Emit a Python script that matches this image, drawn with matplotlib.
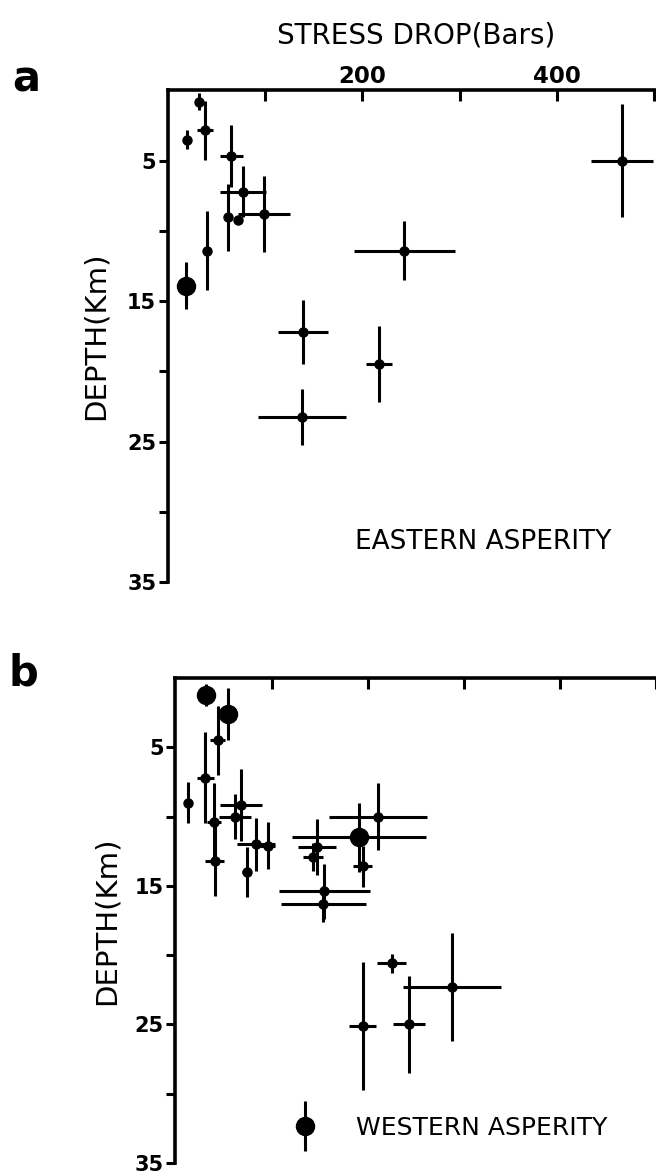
import matplotlib
matplotlib.use('Agg')
import matplotlib.pyplot as plt
from matplotlib.container import ErrorbarContainer
from matplotlib.legend_handler import HandlerErrorbar

# panel a - eastern asperity (stress drop in bars, depth in km)
a_stress = [32, 38, 20, 65, 77, 62, 72, 99, 40, 19, 467, 243, 139, 217, 138]
a_depth = [0.8, 2.85, 3.5, 4.65, 7.2, 9.05, 9.2, 8.8, 11.4, 13.9, 5.0, 11.4, 17.2, 19.5, 23.25]
a_stress_err = [0, 8.5, 0, 12, 24, 0, 0, 27, 0, 0, 32, 52, 26, 13, 45]
a_depth_err = [0.6, 2.1, 0.7, 2.2, 1.8, 2.4, 0, 2.7, 2.8, 1.7, 4.0, 2.1, 2.3, 2.7, 2.0]
a_big = [0, 0, 0, 0, 0, 0, 0, 0, 0, 1, 0, 0, 0, 0, 0]

# panel b - western asperity
b_stress = [32, 55, 44, 31, 13, 40, 41, 68, 62, 84, 96, 74, 147, 143, 155, 154,
            191, 195, 211, 225, 288, 195, 243]
b_depth = [1.2, 2.6, 4.5, 7.2, 9.0, 10.4, 13.2, 9.2, 10.0, 12.0, 12.1, 14.0, 12.2, 12.9,
           15.4, 16.3, 11.5, 13.6, 10.0, 20.6, 22.3, 25.1, 25.0]
b_stress_err = [0, 0, 8, 9, 0, 7, 10, 22, 17, 20, 8, 5, 20, 10, 47, 44,
                70, 10, 51, 15, 51, 14, 17]
b_depth_err = [0.8, 1.9, 2.5, 3.3, 1.5, 2.8, 2.5, 2.6, 1.6, 1.9, 1.7, 1.8, 2.0, 1.0,
               2.0, 1.3, 2.5, 1.5, 2.4, 0.7, 3.9, 4.6, 3.5]
b_big = [1, 1, 0, 0, 0, 0, 0, 0, 0, 0, 0, 0, 0, 0, 0, 0, 1, 0, 0, 0, 0, 0, 0]

x_ticks = [100, 200, 300, 400, 500]
x_labels = ['', '200', '', '400', '']
y_ticks = [5, 10, 15, 20, 25, 30, 35]
y_labels = ['5', '', '15', '', '25', '', '35']

plt.rc('font', family='DejaVu Sans')
fig = plt.figure(figsize=(6.56, 11.74), dpi=100)

ax_a = fig.add_axes([0.2561, 0.5043, 0.7439, 0.4187])
ax_b = fig.add_axes([0.2675, 0.0094, 0.7325, 0.4131])


def draw_points(ax, stress, depth, xerr, yerr, big):
    for i in range(len(stress)):
        ms = 13 if big[i] else 6.5
        ax.errorbar(stress[i], depth[i],
                    xerr=xerr[i] if xerr[i] else None,
                    yerr=yerr[i] if yerr[i] else None,
                    fmt='o', color='black', ms=ms, elinewidth=2.2, capsize=0)


def style_axes(ax, xmax, show_xlabels):
    ax.set_xlim(0, xmax)
    ax.set_ylim(35, 0)
    ax.xaxis.tick_top()
    ax.spines['right'].set_visible(False)
    ax.spines['bottom'].set_visible(False)
    ax.spines['left'].set_linewidth(2.6)
    ax.spines['top'].set_linewidth(2.6)
    ax.set_xticks(x_ticks)
    if show_xlabels:
        ax.set_xticklabels(x_labels, fontsize=16.5, fontweight='bold')
    else:
        ax.set_xticklabels([''] * len(x_ticks))
    ax.set_yticks(y_ticks)
    ax.set_yticklabels(y_labels, fontsize=15, fontweight='bold')
    ax.tick_params(axis='x', direction='in', length=8, width=2.2, pad=2,
                   top=True, bottom=False)
    ax.tick_params(axis='y', direction='out', length=6.5, width=2.2, pad=2)
    ax.set_ylabel('DEPTH(Km)', fontsize=21)


draw_points(ax_a, a_stress, a_depth, a_stress_err, a_depth_err, a_big)
style_axes(ax_a, 502, True)
ax_a.yaxis.set_label_coords(-0.119, 0.5)
ax_a.xaxis.set_label_position('top')
ax_a.set_xlabel('STRESS DROP(Bars)', fontsize=20)
ax_a.xaxis.set_label_coords(0.508, 1.096)
ax_a.text(0.383, 0.082, 'EASTERN ASPERITY', transform=ax_a.transAxes,
          fontsize=19, ha='left', va='center')

draw_points(ax_b, b_stress, b_depth, b_stress_err, b_depth_err, b_big)
style_axes(ax_b, 495, False)
ax_b.yaxis.set_label_coords(-0.115, 0.5)

# key for the large dots
key = ax_b.errorbar([], [], yerr=[], fmt='o', color='black', ms=13,
                    elinewidth=2.2, capsize=0)
ax_b.legend([key], ['WESTERN ASPERITY'], loc='center left',
            bbox_to_anchor=(0.2435, 0.072), frameon=False, fontsize=18,
            borderpad=0, borderaxespad=0, handlelength=1.0, handletextpad=1.55,
            handler_map={ErrorbarContainer: HandlerErrorbar(yerr_size=1.0)})

fig.text(12 / 656, 1 - 92 / 1174, 'a', fontsize=30, fontweight='bold', va='baseline')
fig.text(8 / 656, 1 - 685 / 1174, 'b', fontsize=30, fontweight='bold', va='baseline')

fig.savefig('out.png', dpi=100)
